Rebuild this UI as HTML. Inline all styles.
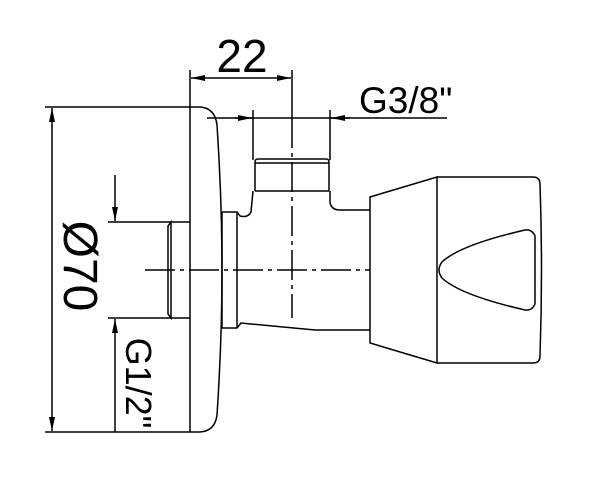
<!DOCTYPE html>
<html><head><style>body{margin:0;background:#fff}svg{display:block}</style></head><body>
<svg width="604" height="500" viewBox="0 0 604 500" xmlns="http://www.w3.org/2000/svg">
<defs>
<marker id="a" viewBox="0 0 14 6" refX="14" refY="3" markerWidth="14" markerHeight="6" orient="auto" markerUnits="userSpaceOnUse"><path d="M0,0L14,3L0,6z" fill="#000"/></marker>
</defs>
<g fill="none" stroke="#000" stroke-width="1.5">
<!-- dim 22 -->
<line x1="190" y1="70" x2="190" y2="432"/>
<line x1="292" y1="70" x2="292" y2="118"/>
<line x1="205" y1="78" x2="191" y2="78" marker-end="url(#a)"/>
<line x1="205" y1="78" x2="277" y2="78"/>
<line x1="277" y1="78" x2="291" y2="78" marker-end="url(#a)"/>
<!-- dim 70 -->
<line x1="45" y1="107" x2="200" y2="107"/>
<line x1="45" y1="432" x2="200" y2="432"/>
<line x1="52" y1="125" x2="52" y2="108" marker-end="url(#a)"/>
<line x1="52" y1="125" x2="52" y2="415"/>
<line x1="52" y1="415" x2="52" y2="431" marker-end="url(#a)"/>
<!-- faceplate -->
<path d="M200,107 Q215,108 217,125 Q222,200 222,270 Q222,340 217,415 Q215,431 200,432"/>
<!-- G3/8 -->
<line x1="207" y1="118" x2="447" y2="118"/>
<line x1="235" y1="118" x2="252" y2="118" marker-end="url(#a)"/>
<line x1="350" y1="118" x2="331" y2="118" marker-end="url(#a)"/>
<line x1="253" y1="110" x2="253" y2="160"/>
<line x1="330" y1="110" x2="330" y2="160"/>
<!-- thread top -->
<path d="M255,191 L255,162 Q255,159 258,159 L326,159 Q329,159 329,162 L329,191"/>
<line x1="255" y1="163" x2="329" y2="163"/>
<line x1="255" y1="191" x2="329" y2="191"/>
<!-- body -->
<path d="M222,212 L237,212 L240,216 Q248,218 251,212 L253,191"/>
<path d="M330,191 L330,202 Q331,210 340,210 L370,210"/>
<path d="M222,212 L222,328 L237,328 L241,323 L315,330 L370,330"/>
<line x1="237" y1="212" x2="237" y2="328"/>
<!-- left pipe -->
<line x1="108" y1="222" x2="190" y2="222"/>
<line x1="108" y1="318" x2="190" y2="318"/>
<path d="M168,226 L171,222 L171,318 L168,314 Z"/>
<line x1="115" y1="175" x2="115" y2="221" marker-end="url(#a)"/>
<line x1="115" y1="432" x2="115" y2="319" marker-end="url(#a)"/>
<!-- handle -->
<path d="M370,197 L437,177 L437,363 L370,343 Z"/>
<path d="M437,177 L533,177 Q540,177 540,184 Q543,270 540,356 Q540,363 533,363 L437,363"/>
<path d="M535,236 Q532,229 525,230 Q460,245 442,262 Q436,270 442,278 Q460,295 525,310 Q532,311 535,304 Z"/>
<!-- centerlines -->
<path d="M145,270 L370,270" stroke-dasharray="30,5,4,5"/>
<path d="M292,118 L292,318" stroke-dasharray="30,5,4,5"/>
</g>
<g font-family="'Liberation Sans',sans-serif" fill="#000">
<text x="242" y="72" font-size="46" text-anchor="middle">22</text>
<text x="359" y="113" font-size="37">G3/8"</text>
<text transform="translate(64,266) rotate(90)" font-size="48" text-anchor="middle">Ø70</text>
<text transform="translate(126,383) rotate(90)" font-size="36" text-anchor="middle">G1/2"</text>
</g>
</svg>
</body></html>
